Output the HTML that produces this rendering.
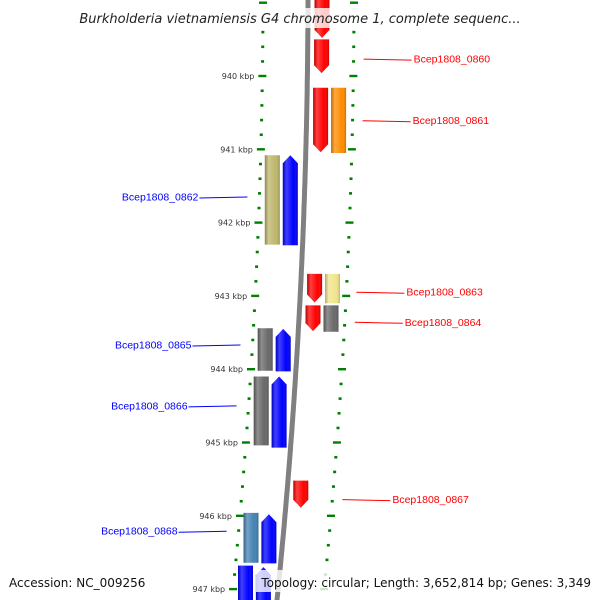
<!DOCTYPE html>
<html><head><meta charset="utf-8"><style>
body{margin:0;background:#fff}
svg{display:block;font-family:"DejaVu Sans","Liberation Sans",sans-serif}
</style></head><body>
<svg id="map" width="600" height="600" viewBox="0 0 600 600" xmlns="http://www.w3.org/2000/svg">
<defs>
<linearGradient id="sh" x1="0" x2="1" y1="0" y2="0">
<stop offset="0" stop-color="#000" stop-opacity="0.25"/>
<stop offset="0.25" stop-color="#fff" stop-opacity="0.25"/>
<stop offset="0.7" stop-color="#fff" stop-opacity="0"/>
<stop offset="1" stop-color="#000" stop-opacity="0.2"/>
</linearGradient>
</defs>
<g id="ticks"></g>
<path id="backbone" fill="none" stroke="#808080" stroke-width="5"/>
<g id="genes"></g>
<g id="labels"></g>
<rect x="66" y="8" width="468" height="20" fill="#fff" fill-opacity="0.8"/>
<text x="300" y="23" text-anchor="middle" font-size="13" font-style="italic" fill="#222">Burkholderia vietnamiensis G4 chromosome 1, complete sequenc...</text>
<rect x="4" y="572" width="150" height="20" fill="#fff" fill-opacity="0.8"/>
<text x="9" y="587" font-size="12" fill="#111">Accession: NC_009256</text>
<rect x="256" y="570" width="340" height="22" fill="#fff" fill-opacity="0.8"/>
<text x="591" y="587" text-anchor="end" font-size="12" fill="#111">Topology: circular; Length: 3,652,814 bp; Genes: 3,349</text>
</svg>
<script>
// data
const tickKbp = [940, 941, 942, 943, 944, 945, 946, 947];
const geneNames = ["g0859","Bcep1808_0860","Bcep1808_0861","g0861b","Bcep1808_0862","g0862b","Bcep1808_0863","g0863b","Bcep1808_0864","g0864b","Bcep1808_0865","g0865b","Bcep1808_0866","g0866b","Bcep1808_0867","Bcep1808_0868","g0868b","g0869","g0869b"];
const geneStart = [938.7,939.5,940.16,940.16,941.08,941.08,942.70,942.70,943.13,943.13,943.44,943.45,944.10,944.10,945.52,945.96,945.98,946.68,946.70];
const geneEnd   = [939.48,939.96,941.04,941.05,942.30,942.31,943.09,943.10,943.48,943.49,944.02,944.03,945.04,945.07,945.89,946.64,946.65,947.5,947.5];
const geneStrand= [-1,-1,-1,-1,1,1,-1,-1,-1,-1,1,1,1,1,-1,1,1,1,1];
const geneLane  = [1,1,1,2,2,1,1,2,1,2,2,1,2,1,1,2,1,2,1];
const geneArrow = [1,1,1,0,0,1,1,0,1,0,0,1,0,1,1,0,1,0,1];
const geneColor = ["#ff0000","#ff0000","#ff0000","#ff8c00","#bdb76b","#0000ff","#ff0000","#f0e68c","#ff0000","#696969","#696969","#0000ff","#696969","#0000ff","#ff0000","#4682b4","#0000ff","#0000ff","#0000ff"];
const labelGene = ["Bcep1808_0860","Bcep1808_0861","Bcep1808_0862","Bcep1808_0863","Bcep1808_0864","Bcep1808_0865","Bcep1808_0866","Bcep1808_0867","Bcep1808_0868"];
const labelKbp  = [939.77,940.61,941.65,942.95,943.36,943.67,944.50,945.78,946.21];
const labelSide = [1,1,-1,1,1,-1,-1,1,-1];

const NS="http://www.w3.org/2000/svg";
const yOf = k => 76 + (k-940)*73.3;
const xOf = y => 308 - 0.0019*y - 0.0000829*y*y;
function mk(tag, attrs, parent){const e=document.createElementNS(NS,tag);for(const a in attrs)e.setAttribute(a,attrs[a]);parent.appendChild(e);return e;}

let d="";for(let y=-5;y<=605;y+=5){d+=(y===-5?"M":"L")+xOf(y).toFixed(1)+","+y;}
document.getElementById('backbone').setAttribute('d',d);

const tg=document.getElementById('ticks');
for(let k=938.8;k<=947.6;k+=0.2){
  const kr=Math.round(k*10)/10, y=yOf(kr), major=Math.abs(kr-Math.round(kr))<0.01;
  [-45,46].forEach(off=>{
    const x=xOf(y)+off;
    const t=mk('rect',{x:(major?x-4:x-1.5),y:y-1.2,width:(major?8:3),height:major?2.4:2.6,fill:'#008000'},tg);
    
    
  });
}
tickKbp.forEach(k=>{
  const y=yOf(k);
  const t=mk('text',{x:xOf(y)-53,y:y+3,'text-anchor':'end','font-size':'8','fill':'#333'},tg);
  t.textContent=k+" kbp";
  
  
});

const gg=document.getElementById('genes');
geneNames.forEach((n,i)=>{
  const y1=yOf(geneStart[i]), y2=yOf(geneEnd[i]);
  const off=(geneStrand[i]>0?-1:1)*(geneLane[i]===1?14:32);
  const cx=xOf((y1+y2)/2)+off, w=15, l=cx-w/2, r=cx+w/2, h=8;
  let pts;
  if(!geneArrow[i]) pts=[[l,y1],[r,y1],[r,y2],[l,y2]];
  else if(geneStrand[i]<0) pts=[[l,y1],[r,y1],[r,y2-h],[cx,y2],[l,y2-h]];
  else pts=[[cx,y1],[r,y1+h],[r,y2],[l,y2],[l,y1+h]];
  const ps=pts.map(p=>p[0].toFixed(1)+","+p[1].toFixed(1)).join(" ");
  const g=mk('g',{},gg);
  
  
  mk('polygon',{points:ps,fill:geneColor[i]},g);
  mk('polygon',{points:ps,fill:'url(#sh)'},g);
});

const lg=document.getElementById('labels');
labelGene.forEach((n,i)=>{
  const y=yOf(labelKbp[i]), bx=xOf(y), s=labelSide[i];
  const col=s>0?'#ff0000':'#0000ff';
  const x1=s>0?bx+56:bx-57, x2=s>0?x1+48:x1-48;
  const ln=mk('line',{x1:x1,y1:y,x2:x2,y2:y+1,stroke:col,'stroke-width':1},lg);
  
  
  const t=mk('text',{x:s>0?x2+2:x2-1,y:y+3.5,'text-anchor':s>0?'start':'end','font-size':'10.5',fill:col,'font-family':'"Liberation Sans",sans-serif'},lg);
  t.textContent=n;
  
  
});
</script>
</body></html>
